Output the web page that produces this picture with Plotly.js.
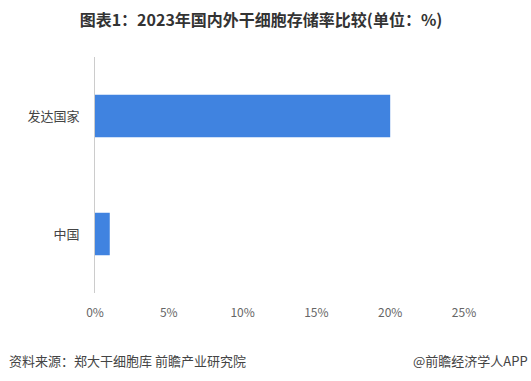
<!DOCTYPE html>
<html>
<head>
<meta charset="utf-8">
<script src="https://cdn.plot.ly/plotly-3.0.1.min.js"></script>
<style>
html,body{margin:0;padding:0;background:#fff;}
#chart{width:531px;height:381px;}
</style>
</head>
<body>
<div id="chart"></div>
<script>
const categories = ["中国", "发达国家"];
const values = [1, 20];
const xTickVals = [0, 5, 10, 15, 20, 25];
const xTickText = ["0%", "5%", "10%", "15%", "20%", "25%"];

const font = '"Noto Sans CJK SC", "Microsoft YaHei", sans-serif';

const data = [{
  type: 'bar',
  orientation: 'h',
  y: categories,
  x: values,
  marker: {color: '#4083e0'},
  hoverinfo: 'none'
}];

const layout = {
  width: 531,
  height: 381,
  margin: {l: 95, r: 67, t: 57, b: 88},
  paper_bgcolor: '#ffffff',
  plot_bgcolor: '#ffffff',
  bargap: 0.64,
  showlegend: false,
  font: {family: font, color: '#555'},
  title: {
    text: '<b>图表1：2023年国内外干细胞存储率比较(单位：%)</b>',
    font: {family: font, size: 16, color: '#333'},
    x: 261/531, xanchor: 'center', xref: 'container',
    y: 1 - 20/381, yanchor: 'middle', yref: 'container'
  },
  xaxis: {
    range: [0, 25],
    tickvals: xTickVals,
    ticktext: xTickText,
    showgrid: false,
    zeroline: false,
    showline: false,
    ticks: '',
    tickfont: {family: font, size: 12, color: '#666'},
    ticklabelstandoff: 11
  },
  yaxis: {
    showgrid: false,
    zeroline: false,
    showline: true,
    linecolor: '#cccccc',
    linewidth: 1,
    ticks: '',
    tickfont: {family: font, size: 13, color: '#444'},
    ticklabelstandoff: 12
  },
  annotations: [
    {
      text: '资料来源：郑大干细胞库 前瞻产业研究院',
      xref: 'paper', yref: 'paper',
      x: -88/369, y: -67/236,
      xanchor: 'left', yanchor: 'middle',
      showarrow: false,
      font: {family: font, size: 13, color: '#444'}
    },
    {
      text: '@前瞻经济学人APP',
      xref: 'paper', yref: 'paper',
      x: 1 + 66/369, y: -67/236,
      xanchor: 'right', yanchor: 'middle',
      showarrow: false,
      font: {family: font, size: 13, color: '#444'}
    }
  ]
};

Plotly.newPlot('chart', data, layout, {staticPlot: true, displayModeBar: false});
</script>
</body>
</html>
